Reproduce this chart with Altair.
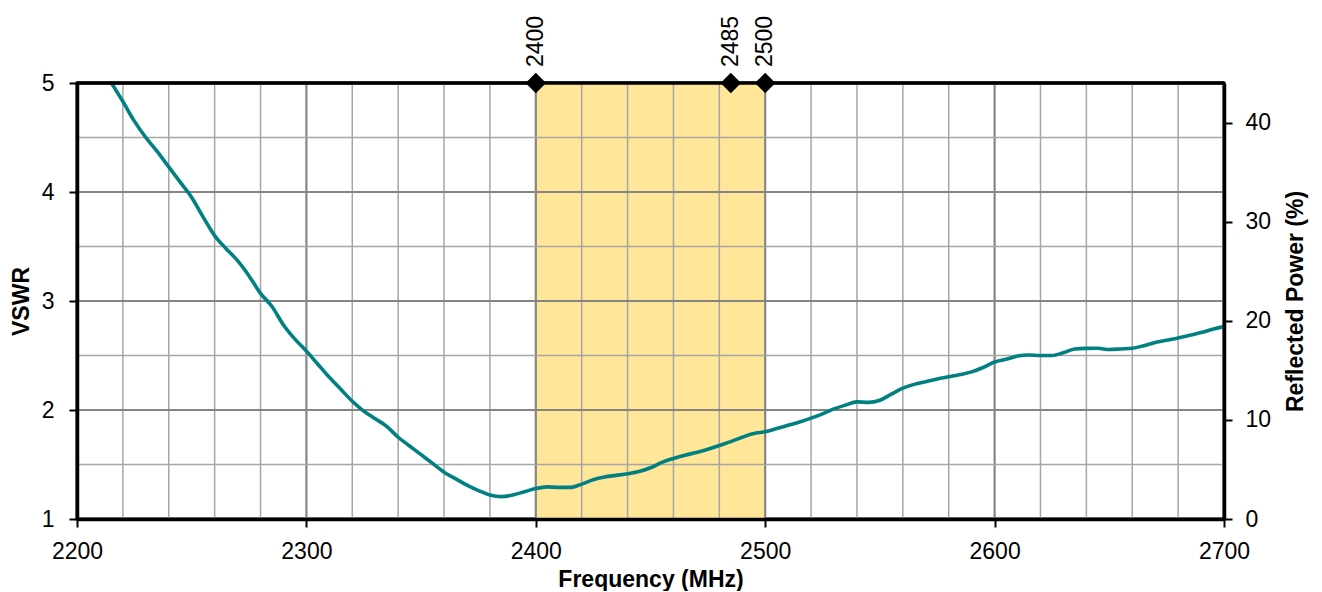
import altair as alt
import pandas as pd

# ---- data ----
freq = [2215, 2220, 2225, 2230, 2235, 2240, 2245, 2250, 2255, 2260, 2265, 2270, 2275, 2280,
        2285, 2290, 2295, 2300, 2305, 2310, 2315, 2320, 2325, 2330, 2335, 2340, 2345, 2350,
        2355, 2360, 2365, 2370, 2375, 2380, 2385, 2390, 2395, 2400, 2405, 2410, 2415, 2420,
        2425, 2430, 2435, 2440, 2445, 2450, 2455, 2460, 2465, 2470, 2475, 2480, 2485, 2490,
        2495, 2500, 2505, 2510, 2515, 2520, 2525, 2530, 2535, 2540, 2545, 2550, 2555, 2560,
        2565, 2570, 2575, 2580, 2585, 2590, 2595, 2600, 2605, 2610, 2615, 2620, 2625, 2630,
        2635, 2640, 2645, 2650, 2655, 2660, 2665, 2670, 2675, 2680, 2685, 2690, 2695, 2700]
vswr = [5.00, 4.83, 4.65, 4.50, 4.37, 4.23, 4.09, 3.95, 3.77, 3.60, 3.48, 3.37, 3.23, 3.07,
        2.95, 2.78, 2.65, 2.54, 2.42, 2.30, 2.19, 2.08, 1.99, 1.92, 1.85, 1.75, 1.67, 1.59,
        1.51, 1.43, 1.37, 1.31, 1.26, 1.22, 1.205, 1.22, 1.25, 1.28, 1.295, 1.29, 1.29, 1.32,
        1.36, 1.385, 1.40, 1.415, 1.435, 1.47, 1.52, 1.555, 1.585, 1.61, 1.64, 1.675, 1.71, 1.75,
        1.785, 1.80, 1.83, 1.86, 1.89, 1.925, 1.965, 2.01, 2.045, 2.075, 2.07, 2.09, 2.145, 2.20,
        2.235, 2.26, 2.285, 2.305, 2.325, 2.35, 2.39, 2.44, 2.465, 2.495, 2.505, 2.50, 2.50, 2.525,
        2.56, 2.565, 2.566, 2.555, 2.56, 2.566, 2.59, 2.62, 2.64, 2.66, 2.685, 2.71, 2.74, 2.765]

band_start = [2400]
band_end = [2500]
marker_freq = [2400, 2485, 2500]
marker_labels = ["2400", "2485", "2500"]

x_ticks = [2200, 2300, 2400, 2500, 2600, 2700]
y_ticks = [1, 2, 3, 4, 5]
minor_x = [2220, 2240, 2260, 2280, 2320, 2340, 2360, 2380, 2420, 2440, 2460, 2480,
           2520, 2540, 2560, 2580, 2620, 2640, 2660, 2680]
major_x = [2300, 2400, 2500, 2600]
minor_y = [1.5, 2.5, 3.5, 4.5]
major_y = [2, 3, 4]
y_top = [5]
y_bottom = [1]
right_ticks = [0, 10, 20, 30, 40]
right_domain = [0, 44]

FONT = "Liberation Sans"

xs = alt.Scale(domain=[2200, 2700], nice=False, zero=False)
ys = alt.Scale(domain=[1, 5], nice=False, zero=False)

common_axis = dict(
    grid=False, domainColor="black", domainWidth=3.5, tickColor="black", tickWidth=2,
    tickSize=8, labelFont=FONT, labelFontSize=23, labelColor="black", titleFont=FONT,
    titleFontSize=23, titleFontWeight="bold", titleColor="black", labelFlush=False,
    labelOverlap=False, zindex=1,
)

xaxis = alt.Axis(values=x_ticks, title="Frequency (MHz)", format="d", labelPadding=13,
                 titlePadding=5, **common_axis)
yaxis = alt.Axis(values=y_ticks, title="VSWR", format="d", labelPadding=15,
                 titlePadding=8, **common_axis)

band_df = pd.DataFrame({"f": band_start, "f2": band_end, "v": y_bottom, "v2": y_top})
band = alt.Chart(band_df).mark_rect(color="#FFE699").encode(
    x=alt.X("f:Q", scale=xs, axis=xaxis), x2="f2:Q",
    y=alt.Y("v:Q", scale=ys, axis=yaxis), y2="v2:Q")

gx_minor = alt.Chart(pd.DataFrame({"f": minor_x})).mark_rule(
    color="#A6A6A6", strokeWidth=1.5).encode(x=alt.X("f:Q", scale=xs))
gx_major = alt.Chart(pd.DataFrame({"f": major_x})).mark_rule(
    color="#858585", strokeWidth=2.2).encode(x=alt.X("f:Q", scale=xs))
gy_minor = alt.Chart(pd.DataFrame({"v": minor_y})).mark_rule(
    color="#A6A6A6", strokeWidth=1.5).encode(y=alt.Y("v:Q", scale=ys))
gy_major = alt.Chart(pd.DataFrame({"v": major_y})).mark_rule(
    color="#858585", strokeWidth=2.2).encode(y=alt.Y("v:Q", scale=ys))
top_border = alt.Chart(pd.DataFrame({"v": y_top})).mark_rule(
    color="black", strokeWidth=3.5).encode(y=alt.Y("v:Q", scale=ys))

line_df = pd.DataFrame({"f": freq, "v": vswr})
line = alt.Chart(line_df).mark_line(color="#008080", strokeWidth=3.6,
                                    interpolate="monotone", clip=True).encode(
    x=alt.X("f:Q", scale=xs), y=alt.Y("v:Q", scale=ys))

mk_df = pd.DataFrame({"f": marker_freq, "v": y_top * len(marker_freq), "lab": marker_labels})
diamonds = alt.Chart(mk_df).mark_point(shape="diamond", filled=True, size=420,
                                       color="black", opacity=1).encode(
    x=alt.X("f:Q", scale=xs), y=alt.Y("v:Q", scale=ys))
labels = alt.Chart(mk_df).mark_text(angle=270, align="left", baseline="middle", dx=16,
                                    font=FONT, fontSize=23, color="black").encode(
    x=alt.X("f:Q", scale=xs), y=alt.Y("v:Q", scale=ys), text="lab:N")

left = alt.layer(band, gx_minor, gx_major, gy_minor, gy_major, line, top_border,
                 diamonds, labels)

raxis = alt.Axis(orient="right", values=right_ticks, title="Reflected Power (%)",
                 labelPadding=13, titlePadding=14, titleAngle=270, titleBaseline="top",
                 **common_axis)
right = alt.Chart(pd.DataFrame({"r": right_domain})).mark_point(opacity=0).encode(
    y=alt.Y("r:Q", scale=alt.Scale(domain=right_domain, nice=False, zero=True), axis=raxis))

chart = alt.layer(left, right).resolve_scale(y="independent").properties(
    width=1147, height=436,
    autosize=alt.AutoSizeParams(type="none"),
    padding={"left": 69, "top": 75, "right": 90, "bottom": 72},
).configure_view(stroke="black", strokeWidth=3)

chart.save("out.html", embed_options={"renderer": "svg", "actions": False})
